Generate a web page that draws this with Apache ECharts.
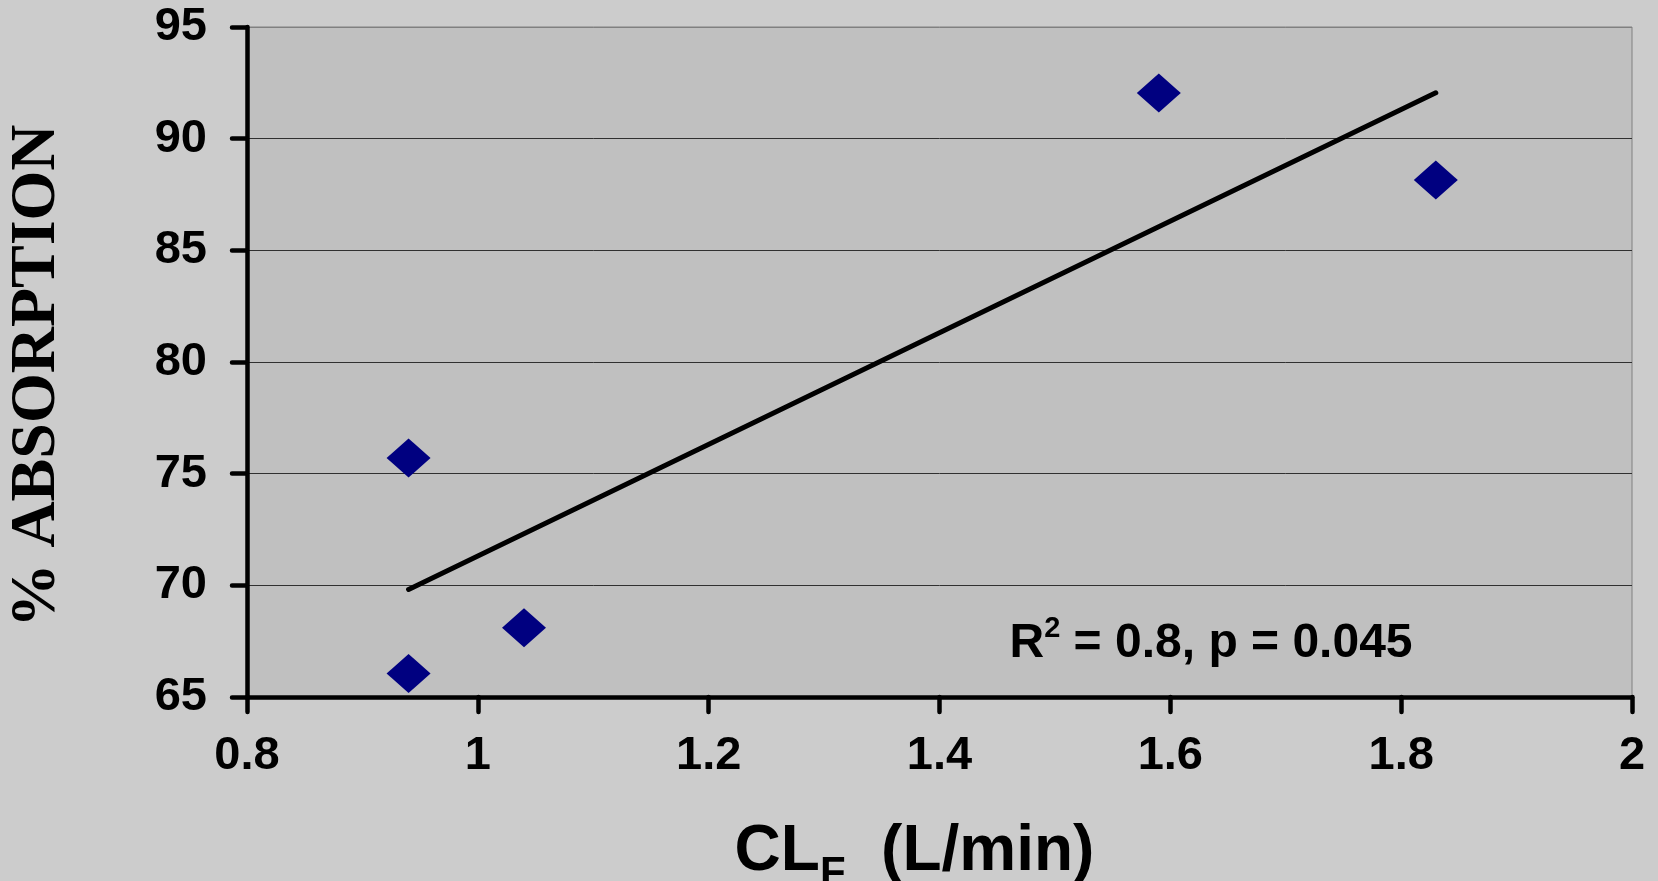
<!DOCTYPE html>
<html>
<head>
<meta charset="utf-8">
<script src="https://cdn.jsdelivr.net/npm/echarts@6/dist/echarts.min.js"></script>
<style>
html,body{margin:0;padding:0;background:#cccccc;}
#chart{width:1658px;height:881px;}
</style>
</head>
<body>
<div id="chart"></div>
<script>
// Data
const clF = [0.94, 0.94, 1.04, 1.59, 1.83];
const absorption = [66.05, 75.7, 68.1, 92.05, 88.15];
const yTicks = [65, 70, 75, 80, 85, 90, 95];
const xTicks = [0.8, 1, 1.2, 1.4, 1.6, 1.8, 2];
const statsText = { r2: '0.8', p: '0.045' };
const yTitle = '% ABSORPTION';
const xTitleMain = 'CL';
const xTitleSub = 'F';
const xTitleUnit = '  (L/min)';

// linear regression trendline from the data
const n = clF.length;
const mx = clF.reduce((a, b) => a + b, 0) / n;
const my = absorption.reduce((a, b) => a + b, 0) / n;
let sxy = 0, sxx = 0;
for (let i = 0; i < n; i++) { sxy += (clF[i] - mx) * (absorption[i] - my); sxx += (clF[i] - mx) ** 2; }
const slope = sxy / sxx, icpt = my - slope * mx;
const xMin = Math.min(...clF), xMax = Math.max(...clF);
const trend = [[xMin, icpt + slope * xMin], [xMax, icpt + slope * xMax]];

const chart = echarts.init(document.getElementById('chart'));
const lblFont = { color: '#000', fontFamily: 'Liberation Sans, Arial', fontWeight: 'bold', fontSize: 47 };
chart.setOption({
  backgroundColor: '#cccccc',
  animation: false,
  grid: { left: 247, right: 26, top: 27, bottom: 184, outerBoundsMode: 'none', containLabel: false, show: true, backgroundColor: '#c0c0c0', borderColor: '#808080', borderWidth: 1 },
  xAxis: {
    type: 'value', min: xTicks[0], max: xTicks[xTicks.length - 1], interval: 0.2,
    axisLine: { show: true, onZero: false, lineStyle: { color: '#000', width: 4.5 } },
    axisTick: { show: true, length: 15, inside: false, lineStyle: { color: '#000', width: 4.5, cap: 'round' } },
    splitLine: { show: false },
    axisLabel: Object.assign({ margin: 36, formatter: v => String(+v.toFixed(1)) }, lblFont),
    name: '{a|' + xTitleMain + '}{b|' + xTitleSub + '}{a|' + xTitleUnit + '}',
    nameLocation: 'middle', nameGap: 112,
    nameTextStyle: {
      padding: [0, 50, 0, 0],
      rich: {
        a: { fontFamily: 'Liberation Sans, Arial', fontWeight: 'bold', fontSize: 64, color: '#000' },
        b: { fontFamily: 'Liberation Sans, Arial', fontWeight: 'bold', fontSize: 42, color: '#000', padding: [44, 0, 0, 0] }
      }
    }
  },
  yAxis: {
    type: 'value', min: yTicks[0], max: yTicks[yTicks.length - 1], interval: 5,
    axisLine: { show: true, onZero: false, lineStyle: { color: '#000', width: 4.5 } },
    axisTick: { show: true, length: 15, lineStyle: { color: '#000', width: 4.5, cap: 'round' } },
    splitLine: { show: true, lineStyle: { color: ['#303030', '#303030', '#303030', '#303030', '#303030', '#303030', '#808080'], width: 1 } },
    axisLabel: Object.assign({ margin: 40 }, lblFont),
    name: yTitle, nameLocation: 'middle', nameGap: 178, nameRotate: 90,
    nameTextStyle: { fontFamily: 'Liberation Serif, Times New Roman', fontWeight: 'bold', fontSize: 64, color: '#000', padding: [0, 28, 0, 0] }
  },
  series: [
    {
      type: 'line', data: trend, showSymbol: false, symbol: 'none', z: 3,
      lineStyle: { color: '#000', width: 5, cap: 'round' }
    },
    {
      type: 'scatter', data: clF.map((x, i) => [x, absorption[i]]), z: 4,
      symbol: 'diamond', symbolSize: [44, 39],
      itemStyle: { color: '#000080', opacity: 1 }
    }
  ],
  graphic: [{
    type: 'text', x: 1211, y: 644, z: 10,
    style: {
      text: '{r|R}{s|2}{r| = ' + statsText.r2 + ', p = ' + statsText.p + '}',
      align: 'center', verticalAlign: 'middle',
      rich: {
        r: { fontFamily: 'Liberation Sans, Arial', fontWeight: 'bold', fontSize: 48, fill: '#000' },
        s: { fontFamily: 'Liberation Sans, Arial', fontWeight: 'bold', fontSize: 29, fill: '#000', padding: [0, 0, 30, 0] }
      }
    }
  }]
});
</script>
</body>
</html>
